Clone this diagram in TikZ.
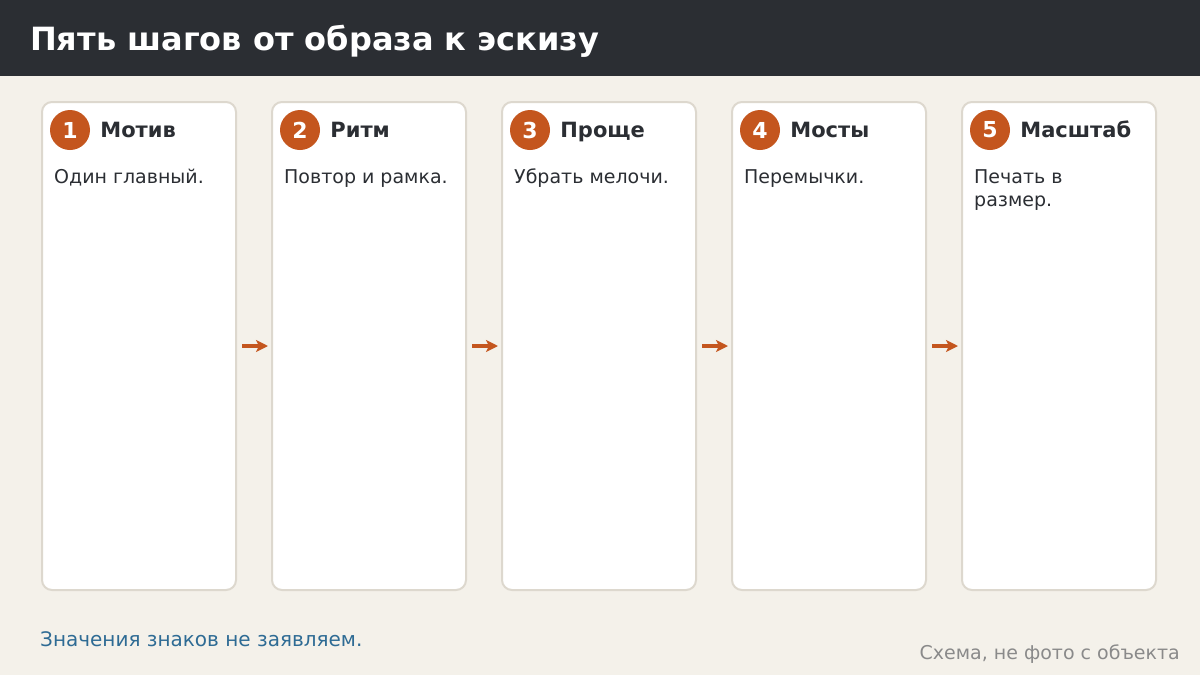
\documentclass[tikz,border=0pt]{standalone}
\usepackage{fontspec}
\setmainfont{DejaVu Sans}
\usetikzlibrary{positioning,arrows.meta}

\definecolor{paper}{HTML}{F4F1EA}
\definecolor{headbar}{HTML}{2B2E33}
\definecolor{rust}{HTML}{C4561E}
\definecolor{cardline}{HTML}{DDD8CE}
\definecolor{ink}{HTML}{2B2E33}
\definecolor{noteblue}{HTML}{2E6B94}
\definecolor{captgray}{HTML}{8A8A8A}

\newcommand{\fsz}[1]{\fontsize{#1}{1.22\dimexpr#1pt\relax}\selectfont}

\tikzset{
  card/.style={draw=cardline, line width=2pt, fill=white, rounded corners=10pt,
    minimum width=194pt, minimum height=488pt, inner sep=0pt},
  badge/.style={circle, fill=rust, minimum size=40pt, inner sep=0pt,
    text=white, font=\bfseries\fsz{22}},
  steptitle/.style={inner sep=0pt, text=ink, font=\bfseries\fsz{21},
    text height=15pt, text depth=0pt},
  stepnote/.style={inner sep=0pt, text=ink, font=\fsz{19}, align=left},
  flow/.style={draw=rust, line width=3.5pt,
    -{Stealth[length=12pt,width=12pt,inset=3pt]},
    shorten <=5pt, shorten >=3pt}
}

\begin{document}
\begin{tikzpicture}[x=1pt, y=-1pt]
  \useasboundingbox (0,0) rectangle (1200,675);
  \fill[paper] (0,0) rectangle (1200,675);
  \fill[headbar] (0,0) rectangle (1200,76);
  \node[anchor=base west, inner sep=0pt, text=white, font=\bfseries\fsz{32}]
    (heading) at (30,50) {Пять шагов от образа к эскизу};

  \foreach \i/\ttl/\txt in {1/{Мотив}/{Один главный.},
                            2/{Ритм}/{Повтор и рамка.},
                            3/{Проще}/{Убрать мелочи.},
                            4/{Мосты}/{Перемычки.},
                            5/{Масштаб}/{Печать в\\размер.}}
  {
    \node[card, anchor=north west] (card\i) at ({41+(\i-1)*230},101) {};
    \node[badge] (num\i) at ({70+(\i-1)*230},130) {\i};
    \node[steptitle, right=10pt of num\i] (ttl\i) {\ttl};
    \node[stepnote, anchor=north west] (txt\i) at ({54+(\i-1)*230},169) {\txt};
  }

  \foreach \i [evaluate=\i as \j using int(\i+1)] in {1,...,4}
    \draw[flow] (card\i.east) -- (card\j.west);

  \node[anchor=base west, inner sep=0pt, text=noteblue, font=\fsz{20}]
    (note) at (40,646) {Значения знаков не заявляем.};
  \node[anchor=base east, inner sep=0pt, text=captgray, font=\fsz{19}]
    (credit) at (1180,659) {Схема, не фото с объекта};
\end{tikzpicture}
\end{document}
